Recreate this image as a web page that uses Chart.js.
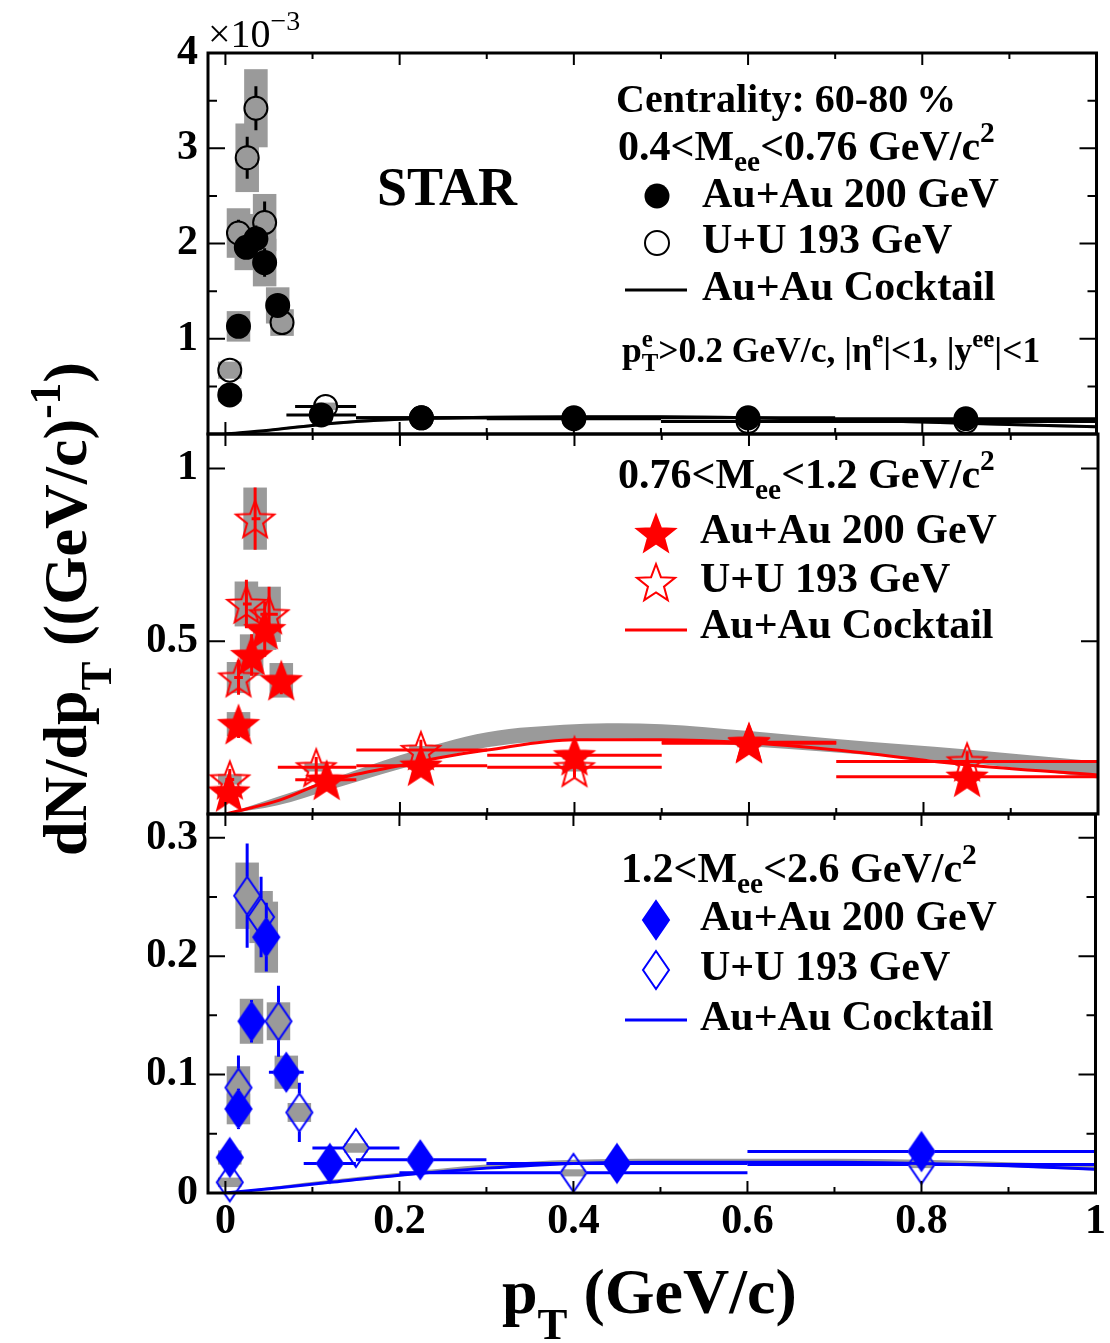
<!DOCTYPE html>
<html>
<head>
<meta charset="utf-8">
<title>Dielectron pT spectra, 60-80%</title>
<script src="https://cdn.jsdelivr.net/npm/chart.js@4.4.1/dist/chart.umd.min.js"></script>
<style>
  html, body { margin: 0; padding: 0; background: #fff; }
  #wrap { position: relative; width: 1110px; height: 1343px; }
  #wrap canvas { position: absolute; left: 0; top: 0; }
</style>
</head>
<body>
<div id="wrap">
  <canvas id="lowMass" width="1110" height="1343"></canvas>
  <canvas id="midMass" width="1110" height="1343"></canvas>
  <canvas id="highMass" width="1110" height="1343"></canvas>
</div>
<script>
// ---- shared pT axis (GeV/c) ----
const xTicks = [0, 0.2, 0.4, 0.6, 0.8, 1];
const xMinorTicks = [0.1, 0.3, 0.5, 0.7, 0.9];

// ---- 0.4 < Mee < 0.76 GeV/c^2, values in units of 1e-3 ----
const lowTicks = [0, 1, 2, 3, 4];
const lowMinorTicks = [0.5, 1.5, 2.5, 3.5];

const lowAuPt   = [0.005, 0.015, 0.024, 0.035, 0.045, 0.060, 0.110, 0.225, 0.400, 0.600, 0.850];
const lowAuLo   = [0.000, 0.010, 0.020, 0.030, 0.040, 0.052, 0.070, 0.150, 0.300, 0.500, 0.700];
const lowAuHi   = [0.010, 0.020, 0.030, 0.040, 0.050, 0.068, 0.150, 0.300, 0.500, 0.700, 1.000];
const lowAuVal  = [0.41, 1.13, 1.96, 2.05, 1.80, 1.35, 0.20, 0.17, 0.16, 0.17, 0.16];
const lowAuStat = [0.06, 0.09, 0.12, 0.14, 0.15, 0.12, 0.04, 0.02, 0.02, 0.02, 0.02];
const lowAuSys  = [0.07, 0.16, 0.24, 0.26, 0.25, 0.19, 0.03, 0.02, 0.02, 0.02, 0.02];

const lowUuPt   = [0.005, 0.015, 0.025, 0.035, 0.045, 0.065, 0.115, 0.225, 0.400, 0.600, 0.850];
const lowUuLo   = [0.000, 0.010, 0.020, 0.030, 0.040, 0.055, 0.080, 0.150, 0.300, 0.500, 0.700];
const lowUuHi   = [0.010, 0.020, 0.030, 0.040, 0.050, 0.075, 0.150, 0.300, 0.500, 0.700, 1.000];
const lowUuVal  = [0.67, 2.11, 2.90, 3.42, 2.22, 1.17, 0.29, 0.17, 0.17, 0.13, 0.13];
const lowUuStat = [0.07, 0.14, 0.22, 0.23, 0.22, 0.12, 0.05, 0.03, 0.03, 0.03, 0.03];
const lowUuSys  = [0.09, 0.26, 0.36, 0.41, 0.30, 0.14, 0.04, 0.03, 0.03, 0.03, 0.03];

const lowCocktailPt = [0, 0.05, 0.1, 0.15, 0.2, 0.3, 0.4, 0.5, 0.6, 0.7, 0.8, 0.9, 1.0];
const lowCocktail   = [0, 0.04, 0.09, 0.13, 0.155, 0.175, 0.18, 0.18, 0.17, 0.15, 0.125, 0.10, 0.075];
const lowBandUp     = [0, 0.05, 0.105, 0.145, 0.17, 0.19, 0.195, 0.195, 0.185, 0.165, 0.14, 0.115, 0.09];
const lowBandDown   = [0, 0.03, 0.075, 0.115, 0.14, 0.16, 0.165, 0.165, 0.155, 0.135, 0.11, 0.085, 0.06];

// ---- 0.76 < Mee < 1.2 GeV/c^2 ----
const midTicks = [0, 0.5, 1];
const midMinorTicks = [];

const midAuPt   = [0.004, 0.015, 0.030, 0.045, 0.064, 0.116, 0.224, 0.400, 0.600, 0.850];
const midAuLo   = [0.000, 0.010, 0.020, 0.030, 0.055, 0.080, 0.150, 0.300, 0.500, 0.700];
const midAuHi   = [0.010, 0.020, 0.040, 0.058, 0.075, 0.150, 0.300, 0.500, 0.700, 1.000];
const midAuVal  = [0.065, 0.26, 0.46, 0.535, 0.387, 0.099, 0.14, 0.17, 0.208, 0.108];
const midAuStat = [0.02, 0.04, 0.06, 0.08, 0.04, 0.02, 0.02, 0.02, 0.03, 0.02];
const midAuSys  = [0.015, 0.035, 0.06, 0.06, 0.05, 0.012, 0.012, 0.012, 0.012, 0.012];

const midUuPt   = [0.005, 0.015, 0.024, 0.034, 0.050, 0.104, 0.224, 0.400, 0.600, 0.850];
const midUuLo   = [0.000, 0.010, 0.020, 0.030, 0.040, 0.060, 0.150, 0.300, 0.500, 0.700];
const midUuHi   = [0.010, 0.020, 0.030, 0.040, 0.060, 0.150, 0.300, 0.500, 0.700, 1.000];
const midUuVal  = [0.10, 0.395, 0.608, 0.855, 0.578, 0.135, 0.185, 0.135, 0.205, 0.152];
const midUuStat = [0.03, 0.05, 0.07, 0.09, 0.08, 0.03, 0.03, 0.03, 0.03, 0.03];
const midUuSys  = [0.015, 0.045, 0.065, 0.09, 0.08, 0.012, 0.012, 0.012, 0.012, 0.012];

const midCocktailPt = [0, 0.062, 0.116, 0.15, 0.2, 0.25, 0.3, 0.4, 0.5, 0.6, 0.7, 0.85, 1.0];
const midCocktail   = [0, 0.04, 0.094, 0.115, 0.14, 0.165, 0.185, 0.215, 0.215, 0.206, 0.185, 0.142, 0.113];
const midBandPt     = [0, 0.06, 0.12, 0.2, 0.3, 0.4, 0.45, 0.5, 0.6, 0.7, 0.85, 1.0];
const midBandUp     = [0, 0.05, 0.10, 0.17, 0.237, 0.26, 0.263, 0.26, 0.24, 0.217, 0.187, 0.152];
const midBandDown   = [0, 0.025, 0.07, 0.13, 0.193, 0.216, 0.218, 0.215, 0.196, 0.178, 0.148, 0.103];

// ---- 1.2 < Mee < 2.6 GeV/c^2 ----
const highTicks = [0, 0.1, 0.2, 0.3];
const highMinorTicks = [0.05, 0.15, 0.25];

const highAuPt   = [0.005, 0.015, 0.030, 0.047, 0.070, 0.120, 0.224, 0.450, 0.800];
const highAuLo   = [0.000, 0.010, 0.020, 0.040, 0.050, 0.090, 0.150, 0.300, 0.600];
const highAuHi   = [0.010, 0.020, 0.040, 0.055, 0.090, 0.150, 0.300, 0.600, 1.000];
const highAuVal  = [0.030, 0.071, 0.145, 0.216, 0.102, 0.025, 0.028, 0.025, 0.035];
const highAuStat = [0.008, 0.017, 0.018, 0.029, 0.014, 0.004, 0.004, 0.004, 0.004];
const highAuSys  = [0.006, 0.013, 0.019, 0.030, 0.014, 0.003, 0.003, 0.003, 0.003];

const highUuPt   = [0.005, 0.015, 0.025, 0.041, 0.061, 0.085, 0.150, 0.400, 0.800];
const highUuLo   = [0.000, 0.010, 0.020, 0.035, 0.050, 0.072, 0.100, 0.200, 0.600];
const highUuHi   = [0.010, 0.020, 0.030, 0.050, 0.070, 0.100, 0.200, 0.600, 1.000];
const highUuVal  = [0.009, 0.089, 0.251, 0.233, 0.145, 0.068, 0.038, 0.017, 0.024];
const highUuStat = [0.006, 0.027, 0.044, 0.034, 0.030, 0.025, 0.005, 0.004, 0.004];
const highUuSys  = [0.004, 0.018, 0.028, 0.022, 0.016, 0.008, 0.004, 0.003, 0.003];

const highCocktailPt = [0, 0.062, 0.12, 0.2, 0.3, 0.4, 0.5, 0.6, 0.7, 0.8, 0.9, 1.0];
const highCocktail   = [0, 0.0045, 0.009, 0.015, 0.021, 0.025, 0.026, 0.026, 0.026, 0.025, 0.023, 0.020];
const highBandUp     = [0, 0.006, 0.011, 0.017, 0.024, 0.028, 0.029, 0.029, 0.029, 0.028, 0.026, 0.024];
const highBandDown   = [0, 0.004, 0.008, 0.014, 0.020, 0.024, 0.025, 0.026, 0.025, 0.024, 0.022, 0.019];

// ---- layout ----
const W = 1110, H = 1343;
const PLOT_LEFT = 208, PLOT_RIGHT = 1098;
const Y_AXIS_W = 60, X_AXIS_H = 60;
const X_MIN = -0.02, X_MAX = 1.0;
const FONT = '"Liberation Serif", "Times New Roman", serif';
const GRAY = '#9a9a9a';
const RED = '#ff0000', BLUE = '#0000ff';
const SYS_HALF = 0.0135; // half width of a systematic box, in pT

const pts = (xs, ys) => xs.map((x, i) => ({ x, y: ys[i] }));
const fmt = v => String(parseFloat(Number(v).toFixed(3)));

// text with ROOT-like sub/superscripts
function rich(ctx, parts, x, y, size, weight = 'bold', drop = 0.25, measureOnly = false) {
    let cx = x;
    for (const p of parts) {
        ctx.font = `${weight} ${size}px ${FONT}`;
        if (!measureOnly) ctx.fillText(p.t, cx, y);
        cx += ctx.measureText(p.t).width;
        if (p.sub || p.sup) {
            ctx.font = `${weight} ${size * 0.7}px ${FONT}`;
            let w = 0;
            if (p.sup) {
                if (!measureOnly) ctx.fillText(p.sup, cx, y - size * 0.42);
                w = ctx.measureText(p.sup).width;
            }
            if (p.sub) {
                if (!measureOnly) ctx.fillText(p.sub, cx, y + size * drop);
                w = Math.max(w, ctx.measureText(p.sub).width);
            }
            cx += w;
        }
    }
    return cx - x;
}

function starMark(fill, stroke, r = 20) {
    const c = document.createElement('canvas');
    c.width = c.height = 2 * r + 6;
    const g = c.getContext('2d'), m = c.width / 2;
    g.beginPath();
    for (let k = 0; k < 10; k++) {
        const rr = k % 2 ? r * 0.42 : r;
        const a = -Math.PI / 2 + k * Math.PI / 5;
        g.lineTo(m + rr * Math.cos(a), m + 2 + rr * Math.sin(a));
    }
    g.closePath();
    if (fill) { g.fillStyle = fill; g.fill(); }
    g.lineWidth = 2; g.strokeStyle = stroke; g.stroke();
    return c;
}

function diamondMark(fill, stroke, hw = 13, hh = 19) {
    const c = document.createElement('canvas');
    c.width = 2 * hw + 6; c.height = 2 * hh + 6;
    const g = c.getContext('2d'), mx = c.width / 2, my = c.height / 2;
    g.beginPath();
    g.moveTo(mx, my - hh); g.lineTo(mx + hw, my); g.lineTo(mx, my + hh); g.lineTo(mx - hw, my);
    g.closePath();
    if (fill) { g.fillStyle = fill; g.fill(); }
    g.lineWidth = 2; g.strokeStyle = stroke; g.stroke();
    return c;
}

const starFilled = starMark(RED, RED);
const starOpen = starMark(null, RED);
const diamondFilled = diamondMark(BLUE, BLUE);
const diamondOpen = diamondMark(null, BLUE);

// gray systematic boxes first, then stat + bin-width bars under each marker set
const errorBars = {
    id: 'errorBars',
    beforeDatasetsDraw(chart) {
        const { ctx, scales: { x, y } } = chart;
        ctx.save();
        ctx.fillStyle = GRAY;
        chart.data.datasets.forEach(ds => {
            if (!ds.err) return;
            ds.data.forEach((p, i) => {
                const l = x.getPixelForValue(p.x - SYS_HALF), r = x.getPixelForValue(p.x + SYS_HALF);
                const t = y.getPixelForValue(p.y + ds.err.sys[i]), b = y.getPixelForValue(p.y - ds.err.sys[i]);
                ctx.fillRect(l, t, r - l, b - t);
            });
        });
        ctx.restore();
    },
    beforeDatasetDraw(chart, args) {
        const ds = chart.data.datasets[args.index];
        if (!ds.err) return;
        const { ctx, scales: { x, y } } = chart;
        const e = ds.err;
        ctx.save();
        ctx.strokeStyle = e.color;
        ctx.lineWidth = 3;
        ctx.beginPath();
        ds.data.forEach((p, i) => {
            const px = x.getPixelForValue(p.x), py = y.getPixelForValue(p.y);
            const up = y.getPixelForValue(p.y + e.stat[i]), dn = y.getPixelForValue(p.y - e.stat[i]);
            const l = x.getPixelForValue(e.lo[i]), r = x.getPixelForValue(e.hi[i]);
            if (up < py - e.gapY) { ctx.moveTo(px, up); ctx.lineTo(px, py - e.gapY); }
            if (dn > py + e.gapY) { ctx.moveTo(px, py + e.gapY); ctx.lineTo(px, dn); }
            if (l < px - e.gapX) { ctx.moveTo(l, py); ctx.lineTo(px - e.gapX, py); }
            if (r > px + e.gapX) { ctx.moveTo(px + e.gapX, py); ctx.lineTo(r, py); }
        });
        ctx.stroke();
        ctx.restore();
    }
};

// frame with inward ticks on all four sides
function framePlugin(yMajor, yMinor) {
    return {
        id: 'rootFrame',
        afterDatasetsDraw(chart) {
            const { ctx, chartArea: a, scales: { x, y } } = chart;
            ctx.save();
            ctx.strokeStyle = '#000';
            ctx.lineWidth = 2;
            ctx.beginPath();
            const xt = (vals, len) => vals.forEach(v => {
                const px = x.getPixelForValue(v);
                ctx.moveTo(px, a.bottom); ctx.lineTo(px, a.bottom - len);
                ctx.moveTo(px, a.top); ctx.lineTo(px, a.top + len);
            });
            const yt = (vals, len) => vals.forEach(v => {
                const py = y.getPixelForValue(v);
                ctx.moveTo(a.left, py); ctx.lineTo(a.left + len, py);
                ctx.moveTo(a.right, py); ctx.lineTo(a.right - len, py);
            });
            xt(xTicks, 12); xt(xMinorTicks, 6);
            yt(yMajor, 17); yt(yMinor, 9);
            ctx.stroke();
            ctx.lineWidth = 3;
            ctx.strokeRect(a.left, a.top, a.width, a.height);
            ctx.restore();
        }
    };
}

function markerSet(xs, ys, err, style, order) {
    return Object.assign({
        data: pts(xs, ys),
        clip: false,
        order,
        err
    }, style);
}

function lineSet(xs, ys, color, order) {
    return {
        data: pts(xs, ys), showLine: true, pointRadius: 0,
        borderColor: color, borderWidth: 3, cubicInterpolationMode: 'monotone', order
    };
}

function bandSets(xs, up, down) {
    return [
        { data: pts(xs, up), showLine: true, pointRadius: 0, borderWidth: 1, borderColor: 'rgba(0,0,0,0)',
          backgroundColor: GRAY, fill: '+1', cubicInterpolationMode: 'monotone', order: 8 },
        { data: pts(xs, down), showLine: true, pointRadius: 0, borderWidth: 1, borderColor: 'rgba(0,0,0,0)',
          fill: false, cubicInterpolationMode: 'monotone', order: 9 }
    ];
}

const tickFont = { family: FONT, size: 42, weight: 'bold' };

function makePanel(id, p) {
    return new Chart(document.getElementById(id), {
        type: 'scatter',
        data: { datasets: p.datasets },
        options: {
            responsive: false,
            animation: false,
            events: [],
            layout: {
                padding: {
                    left: PLOT_LEFT - Y_AXIS_W,
                    right: W - PLOT_RIGHT,
                    top: p.top,
                    bottom: H - p.bottom - (p.xLabels ? X_AXIS_H : 0)
                }
            },
            plugins: { legend: { display: false }, tooltip: { enabled: false } },
            scales: {
                x: {
                    type: 'linear', min: X_MIN, max: X_MAX, display: p.xLabels,
                    grid: { display: false, drawTicks: false }, border: { display: false },
                    afterBuildTicks: s => { s.ticks = xTicks.map(v => ({ value: v })); },
                    afterFit: s => { s.height = p.xLabels ? X_AXIS_H : 0; },
                    ticks: { font: tickFont, color: '#000', padding: 4, maxRotation: 0, autoSkip: false, callback: v => fmt(v) }
                },
                y: {
                    type: 'linear', min: p.yMin, max: p.yMax,
                    grid: { display: false, drawTicks: false }, border: { display: false },
                    afterBuildTicks: s => { s.ticks = p.yTicks.map(v => ({ value: v })); },
                    afterFit: s => { s.width = Y_AXIS_W; },
                    ticks: {
                        font: tickFont, color: '#000', padding: 10, autoSkip: false,
                        callback: v => (p.hideZero && v === 0) ? '' : fmt(v)
                    }
                }
            }
        },
        plugins: [errorBars, framePlugin(p.yTicks, p.yMinor), { id: 'panelText', afterDraw: p.text }]
    });
}

function legendLine(ctx, color, y) {
    ctx.save();
    ctx.strokeStyle = color; ctx.lineWidth = 3;
    ctx.beginPath(); ctx.moveTo(625, y); ctx.lineTo(687, y); ctx.stroke();
    ctx.restore();
}

function drawLowText(chart) {
    const ctx = chart.ctx;
    ctx.save();
    ctx.fillStyle = '#000';
    rich(ctx, [{ t: '\u00d710', sup: '\u22123' }], 208, 47, 40, 'normal');
    rich(ctx, [{ t: 'STAR' }], 377, 205, 54);
    rich(ctx, [{ t: 'Centrality: 60-80\u2009%' }], 616, 112, 40);
    rich(ctx, [{ t: '0.4<M', sub: 'ee' }, { t: '<0.76 GeV/c', sup: '2' }], 618, 160, 42);
    rich(ctx, [{ t: 'Au+Au 200 GeV' }], 702, 207, 42);
    rich(ctx, [{ t: 'U+U 193 GeV' }], 702, 253, 42);
    rich(ctx, [{ t: 'Au+Au Cocktail' }], 702, 300, 42);
    rich(ctx, [{ t: 'p', sub: 'T', sup: 'e' }, { t: '>0.2 GeV/c, |\u03b7', sup: 'e' }, { t: '|<1, |y', sup: 'ee' }, { t: '|<1' }], 622, 362, 35.5);
    ctx.beginPath(); ctx.arc(657, 196, 12.5, 0, Math.PI * 2); ctx.fill();
    ctx.beginPath(); ctx.arc(657, 243, 12, 0, Math.PI * 2);
    ctx.fillStyle = '#fff'; ctx.fill();
    ctx.strokeStyle = '#000'; ctx.lineWidth = 2; ctx.stroke();
    legendLine(ctx, '#000', 290);
    ctx.restore();
}

function drawMidText(chart) {
    const ctx = chart.ctx;
    ctx.save();
    ctx.fillStyle = '#000';
    rich(ctx, [{ t: '0.76<M', sub: 'ee' }, { t: '<1.2 GeV/c', sup: '2' }], 618, 488, 42);
    rich(ctx, [{ t: 'Au+Au 200 GeV' }], 700, 543, 42);
    rich(ctx, [{ t: 'U+U 193 GeV' }], 700, 592, 42);
    rich(ctx, [{ t: 'Au+Au Cocktail' }], 700, 638, 42);
    ctx.drawImage(starFilled, 656 - starFilled.width / 2, 533 - starFilled.height / 2);
    ctx.drawImage(starOpen, 656 - starOpen.width / 2, 582 - starOpen.height / 2);
    legendLine(ctx, RED, 630);
    ctx.restore();
}

function drawHighText(chart) {
    const ctx = chart.ctx;
    ctx.save();
    ctx.fillStyle = '#000';
    rich(ctx, [{ t: '1.2<M', sub: 'ee' }, { t: '<2.6 GeV/c', sup: '2' }], 621, 882, 42);
    rich(ctx, [{ t: 'Au+Au 200 GeV' }], 700, 930, 42);
    rich(ctx, [{ t: 'U+U 193 GeV' }], 700, 980, 42);
    rich(ctx, [{ t: 'Au+Au Cocktail' }], 700, 1030, 42);
    ctx.drawImage(diamondFilled, 656 - diamondFilled.width / 2, 920 - diamondFilled.height / 2);
    ctx.drawImage(diamondOpen, 656 - diamondOpen.width / 2, 970 - diamondOpen.height / 2);
    legendLine(ctx, BLUE, 1020);

    // axis titles
    rich(ctx, [{ t: 'p', sub: 'T' }, { t: ' (GeV/c)' }], 502, 1313, 64, 'bold', 0.4);
    const yTitle = [{ t: 'dN/dp', sub: 'T' }, { t: ' ((GeV/c)', sup: '-1' }, { t: ')' }];
    const w = rich(ctx, yTitle, 0, 0, 62, 'bold', 0.4, true);
    ctx.translate(86, 609);
    ctx.rotate(-Math.PI / 2);
    rich(ctx, yTitle, -w / 2, 0, 62, 'bold', 0.4);
    ctx.restore();
}

const circleGap = 11.5;

makePanel('lowMass', {
    top: 53, bottom: 434, yMin: 0, yMax: 4, yTicks: lowTicks, yMinor: lowMinorTicks, hideZero: true,
    xLabels: false, text: drawLowText,
    datasets: [
        markerSet(lowAuPt, lowAuVal,
            { lo: lowAuLo, hi: lowAuHi, stat: lowAuStat, sys: lowAuSys, color: '#000', gapX: circleGap, gapY: circleGap },
            { pointStyle: 'circle', pointRadius: 11.5, backgroundColor: '#000', borderColor: '#000', borderWidth: 2 }, 0),
        markerSet(lowUuPt, lowUuVal,
            { lo: lowUuLo, hi: lowUuHi, stat: lowUuStat, sys: lowUuSys, color: '#000', gapX: circleGap, gapY: circleGap },
            { pointStyle: 'circle', pointRadius: 11.5, backgroundColor: 'rgba(0,0,0,0)', borderColor: '#000', borderWidth: 2 }, 1),
        lineSet(lowCocktailPt, lowCocktail, '#000', 2),
        ...bandSets(lowCocktailPt, lowBandUp, lowBandDown)
    ]
});

makePanel('midMass', {
    top: 434, bottom: 814, yMin: 0, yMax: 1.1, yTicks: midTicks, yMinor: midMinorTicks, hideZero: true,
    xLabels: false, text: drawMidText,
    datasets: [
        markerSet(midAuPt, midAuVal,
            { lo: midAuLo, hi: midAuHi, stat: midAuStat, sys: midAuSys, color: RED, gapX: 0, gapY: 0 },
            { pointStyle: starFilled }, 0),
        markerSet(midUuPt, midUuVal,
            { lo: midUuLo, hi: midUuHi, stat: midUuStat, sys: midUuSys, color: RED, gapX: 0, gapY: 0 },
            { pointStyle: starOpen }, 1),
        lineSet(midCocktailPt, midCocktail, RED, 2),
        ...bandSets(midBandPt, midBandUp, midBandDown)
    ]
});

makePanel('highMass', {
    top: 814, bottom: 1193, yMin: 0, yMax: 0.32, yTicks: highTicks, yMinor: highMinorTicks, hideZero: false,
    xLabels: true, text: drawHighText,
    datasets: [
        markerSet(highAuPt, highAuVal,
            { lo: highAuLo, hi: highAuHi, stat: highAuStat, sys: highAuSys, color: BLUE, gapX: 13, gapY: 19 },
            { pointStyle: diamondFilled }, 0),
        markerSet(highUuPt, highUuVal,
            { lo: highUuLo, hi: highUuHi, stat: highUuStat, sys: highUuSys, color: BLUE, gapX: 13, gapY: 19 },
            { pointStyle: diamondOpen }, 1),
        lineSet(highCocktailPt, highCocktail, BLUE, 2),
        ...bandSets(highCocktailPt, highBandUp, highBandDown)
    ]
});
</script>
</body>
</html>
